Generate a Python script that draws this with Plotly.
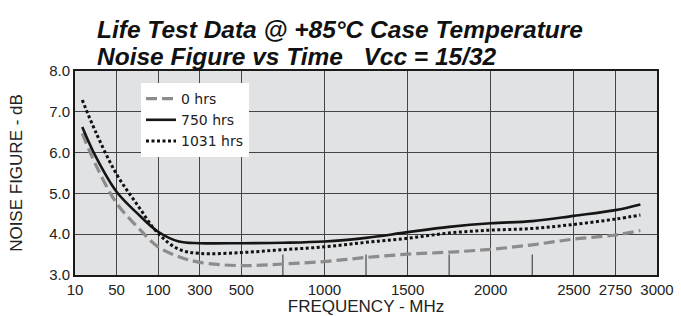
import numpy as np
import plotly.graph_objects as go

# Axis tick frequencies (MHz) - the chart uses equally spaced ticks
AXIS_FREQS = [10, 50, 100, 300, 500, 750, 1000, 1250, 1500, 1750, 2000, 2250, 2500, 2750, 3000]
LABELED_FREQS = [10, 50, 100, 300, 500, 1000, 1500, 2000, 2500, 2750, 3000]
MINOR_FREQS = [750, 1250, 1750, 2250]

# Series data (frequency in MHz, noise figure in dB)
freq = [17, 30, 50, 75, 100, 200, 300, 500, 750, 1000, 1250, 1500, 1750, 2000, 2250, 2500, 2750, 2900]
nf_0hrs = [6.47, 5.70, 4.76, 4.18, 3.69, 3.45, 3.31, 3.23, 3.27, 3.33, 3.43, 3.51, 3.56, 3.63, 3.74, 3.88, 3.98, 4.09]
nf_750hrs = [6.63, 5.90, 5.04, 4.51, 4.06, 3.82, 3.78, 3.78, 3.79, 3.82, 3.91, 4.05, 4.18, 4.27, 4.32, 4.45, 4.59, 4.73]
nf_1031hrs = [7.29, 6.50, 5.47, 4.72, 4.02, 3.63, 3.53, 3.55, 3.62, 3.69, 3.80, 3.90, 4.03, 4.10, 4.14, 4.24, 4.37, 4.47]

y_ticks = [3.0, 4.0, 5.0, 6.0, 7.0, 8.0]

idx = np.arange(len(AXIS_FREQS))


def to_axis(f):
    """Map frequency onto the chart's equally spaced tick scale."""
    return np.interp(np.asarray(f, dtype=float), AXIS_FREQS, idx)


x_pos = to_axis(freq)

fig = go.Figure()
fig.add_trace(go.Scatter(x=x_pos, y=nf_0hrs, name="0 hrs", mode="lines",
                         line=dict(color="#8c8c8c", width=3.2, dash="11px,5px", shape="spline")))
fig.add_trace(go.Scatter(x=x_pos, y=nf_750hrs, name="750 hrs", mode="lines",
                         line=dict(color="#151515", width=2.6, shape="spline")))
fig.add_trace(go.Scatter(x=x_pos, y=nf_1031hrs, name="1031 hrs", mode="lines",
                         line=dict(color="#111111", width=3, dash="3px,2.5px", shape="spline")))

# Short minor tick lines at unlabeled frequencies
for f in MINOR_FREQS:
    xv = float(to_axis(f))
    fig.add_shape(type="line", xref="x", yref="y", x0=xv, x1=xv, y0=3.0, y1=3.5,
                  line=dict(color="#555555", width=1.3), layer="below")

TXT = "Liberation Sans"
fig.add_annotation(text="<b><i>Life Test Data @ +85°C Case Temperature</i></b>",
                   xref="paper", yref="paper", x=(95 - 75) / 582, y=(275 - 29) / 204,
                   xanchor="left", yanchor="middle", showarrow=False,
                   font=dict(family=TXT, size=24.5, color="#111111"))
fig.add_annotation(text="<b><i>Noise Figure vs Time\u00a0\u00a0\u00a0Vcc = 15/32</i></b>",
                   xref="paper", yref="paper", x=(95 - 75) / 582, y=(275 - 56) / 204,
                   xanchor="left", yanchor="middle", showarrow=False,
                   font=dict(family=TXT, size=24.5, color="#111111"))

fig.update_layout(
    width=681, height=316, autosize=False,
    margin=dict(l=75, r=24, t=71, b=41),
    paper_bgcolor="white", plot_bgcolor="#e1e2e4",
    showlegend=True,
    legend=dict(x=(141 - 75) / 582, y=(275 - 83) / 204, xanchor="left", yanchor="top",
                bgcolor="white", borderwidth=0,
                font=dict(family="DejaVu Sans", size=14, color="#222222"),
                tracegroupgap=0, itemwidth=30),
    font=dict(family=TXT, color="#222222"),
)
fig.update_xaxes(range=[0, len(AXIS_FREQS) - 1],
                 tickvals=[float(to_axis(f)) for f in LABELED_FREQS],
                 ticktext=[str(f) for f in LABELED_FREQS],
                 tickfont=dict(family=TXT, size=15, color="#222222"),
                 showgrid=True, gridcolor="#444444", gridwidth=1.3,
                 showline=True, linecolor="#1a1a1a", linewidth=2, mirror=True,
                 zeroline=False, ticks="",
                 title=dict(text="FREQUENCY - MHz", font=dict(family=TXT, size=17, color="#222222"), standoff=4),
                 automargin=False)
fig.update_yaxes(range=[3, 8], tickvals=y_ticks, ticktext=[f"{v:.1f}" for v in y_ticks],
                 tickfont=dict(family=TXT, size=15, color="#222222"),
                 showgrid=True, gridcolor="#444444", gridwidth=1.3,
                 showline=True, linecolor="#1a1a1a", linewidth=2, mirror=True,
                 zeroline=False, ticks="",
                 title=dict(text="NOISE FIGURE - dB", font=dict(family=TXT, size=17, color="#222222"), standoff=22),
                 automargin=False)

fig.write_html("out.html", config={"displayModeBar": False},
               post_script="document.body.style.margin='0';")
